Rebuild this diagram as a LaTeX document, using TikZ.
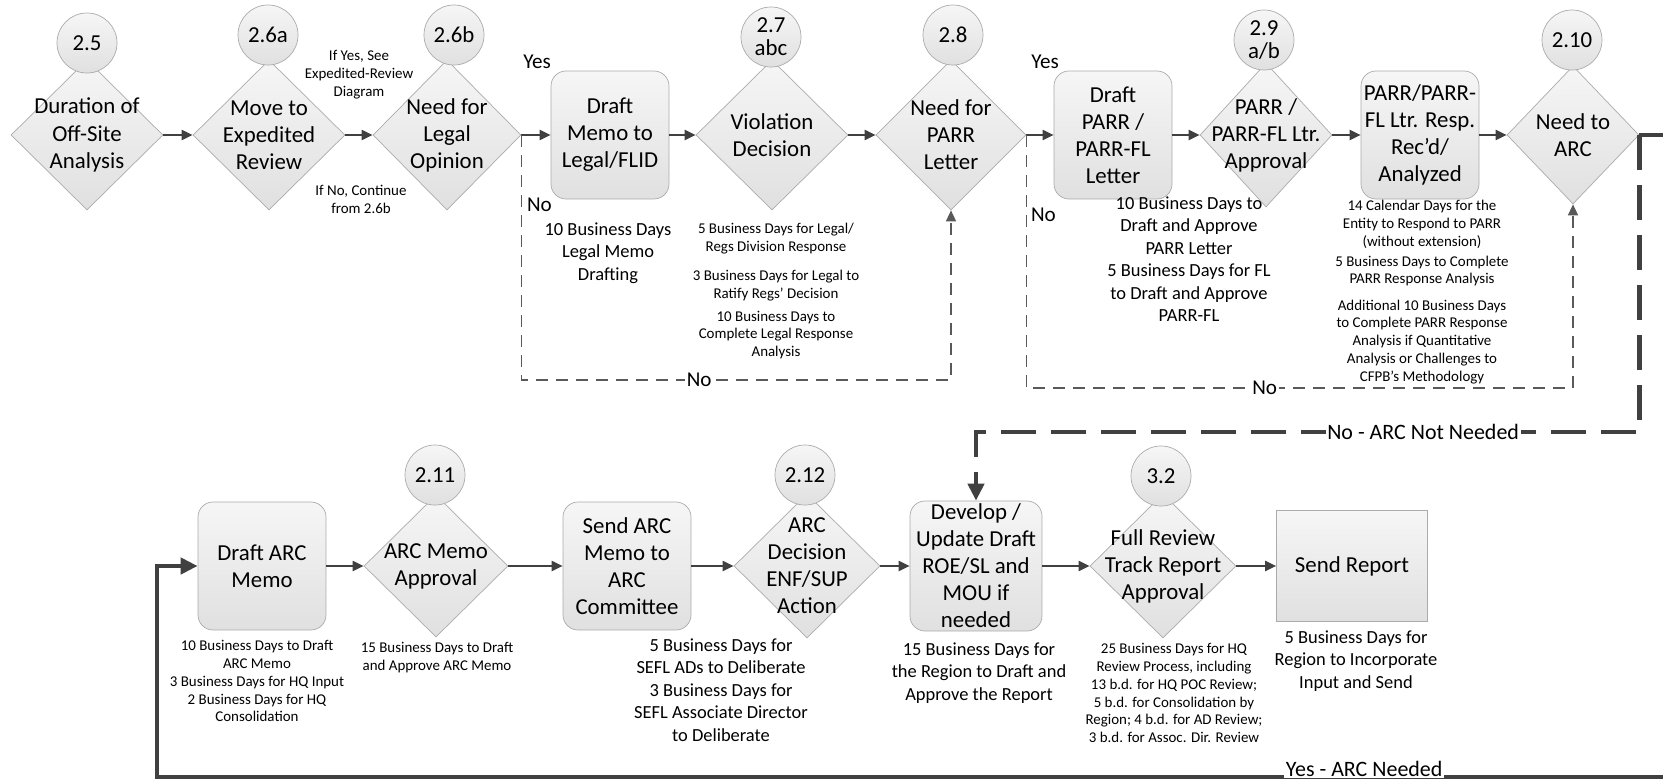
\documentclass[tikz,border=0pt]{standalone}
\usepackage{fontspec}
\setmainfont{Carlito}
\usetikzlibrary{shapes.geometric,arrows.meta}
\definecolor{linegray}{HTML}{404040}
\definecolor{dashgray}{HTML}{595959}
\definecolor{edgegray}{HTML}{ABABAB}
\definecolor{fillgray}{HTML}{E0E0E0}
\definecolor{topgray}{HTML}{F6F6F6}
\begin{document}
\begin{tikzpicture}[x=0.2mm,y=-0.2mm,>={Triangle[length=2.2mm,width=2mm]},
  dtxt/.style={align=center,inner sep=0pt,font=\fontsize{13}{15.4}\selectfont},
  dia/.style={draw=edgegray,diamond,top color=topgray,bottom color=fillgray,inner sep=0pt,minimum width=30.4mm,minimum height=30mm,label={[dtxt]center:#1}},
  box/.style={draw=edgegray,rounded corners=3mm,top color=topgray,bottom color=fillgray,inner sep=1pt,align=center,minimum width=23.6mm,minimum height=25.6mm,font=\fontsize{13}{15.4}\selectfont},
  num/.style={draw=edgegray,circle,top color=topgray,bottom color=fillgray,inner sep=0pt,minimum size=12mm,align=center,font=\fontsize{13}{13}\selectfont},
  note/.style={align=center,inner sep=0pt,font=\fontsize{8.5}{10.2}\selectfont},
  mid/.style={align=center,inner sep=0pt,font=\fontsize{10.5}{12.8}\selectfont},
  lbl/.style={inner sep=1pt,font=\fontsize{12}{14}\selectfont},
  conn/.style={draw=linegray,line width=0.4mm},
  dashln/.style={draw=dashgray,line width=0.3mm,dash pattern=on 2.4mm off 1.6mm},
  heavy/.style={draw=linegray,line width=0.9mm,>={Triangle[length=3.4mm,width=3.2mm]}},
  heavydash/.style={heavy,dash pattern=on 7mm off 3mm}]
\useasboundingbox (0,0) rectangle (1663,782);

\node[dia={Duration of\\Off-Site\\Analysis}] (d1) at (87,135) {};
\node[dia={Move to\\Expedited\\Review}] (d2) at (269,135) {};
\node[dia={Need for\\Legal\\Opinion},minimum width=29.6mm] (d3) at (447,135) {};
\node[box] (b1) at (610,135) {Draft\\Memo to\\Legal/FLID};
\node[dia={Violation\\Decision}] (d4) at (772,135) {};
\node[dia={Need for\\PARR\\Letter},minimum width=30mm] (d5) at (951,135) {};
\node[box] (b2) at (1113,135) {Draft\\PARR /\\PARR-FL\\Letter};
\node[dia={PARR /\\PARR-FL Ltr.\\Approval},minimum width=26.4mm,minimum height=28.8mm] (d6) at (1266,135) {};
\node[box] (b3) at (1420,135) {PARR/PARR-\\FL Ltr. Resp.\\Rec’d/\\Analyzed};
\node[dia={Need to\\ARC},minimum width=26.4mm,minimum height=27.6mm] (d7) at (1573,135) {};

\node[num] (c1) at (87,43) {2.5};
\node[num] (c2) at (268,35) {2.6a};
\node[num] (c3) at (454,35) {2.6b};
\node[num] (c4) at (771,37) {2.7\\abc};
\node[num] (c5) at (953,35) {2.8};
\node[num] (c6) at (1264,40) {2.9\\a/b};
\node[num] (c7) at (1572,40) {2.10};

\node[box,minimum width=25.6mm,minimum height=25.6mm] (b4) at (262,566) {Draft ARC\\Memo};
\node[dia={ARC Memo\\Approval},minimum width=28.8mm,minimum height=28.4mm] (d8) at (436,566) {};
\node[box,minimum width=25.6mm,minimum height=25.6mm] (b5) at (627,566) {Send ARC\\Memo to\\ARC\\Committee};
\node[dia={ARC\\Decision\\ENF/SUP\\Action},minimum width=29.2mm,minimum height=28.8mm] (d9) at (807,566) {};
\node[box,minimum width=26.4mm,minimum height=26mm] (b6) at (976,566) {Develop /\\Update Draft\\ROE/SL and\\MOU if\\needed};
\node[dia={Full Review\\Track Report\\Approval},minimum width=29.2mm,minimum height=28.8mm] (d10) at (1163,566) {};
\node[box,sharp corners,minimum width=30.2mm,minimum height=22.2mm] (b7) at (1352,566) {Send Report};

\node[num] (c8) at (435,475) {2.11};
\node[num] (c9) at (805,475) {2.12};
\node[num] (c10) at (1161,476) {3.2};

\node[lbl] (yes1) at (537,62) {Yes};
\node[lbl] (yes2) at (1045,62) {Yes};
\node[lbl,anchor=west] (no1) at (525,205) {No};
\node[lbl,anchor=west] (no2) at (1029,215) {No};

\node[note] (n1) at (359,75) {If Yes, See\\Expedited-Review\\Diagram};
\node[note] (n2) at (361,199) {If No, Continue\\from 2.6b};
\node[mid] (n3) at (608,253) {10 Business Days\\Legal Memo\\Drafting};
\node[note] (n4) at (776,239) {5 Business Days for Legal/\\Regs Division Response};
\node[note] (n5) at (776,286) {3 Business Days for Legal to\\Ratify Regs’ Decision};
\node[note] (n6) at (776,335) {10 Business Days to\\Complete Legal Response\\Analysis};
\node[mid] (n7) at (1189,259) {10 Business Days to\\Draft and Approve\\PARR Letter\\5 Business Days for FL\\to Draft and Approve\\PARR-FL};
\node[note] (n8) at (1422,224) {14 Calendar Days for the\\Entity to Respond to PARR\\(without extension)};
\node[note] (n9) at (1422,271) {5 Business Days to Complete\\PARR Response Analysis};
\node[note] (n10) at (1422,342) {Additional 10 Business Days\\to Complete PARR Response\\Analysis if Quantitative\\Analysis or Challenges to\\CFPB’s Methodology};
\node[note] (n11) at (257,681) {10 Business Days to Draft\\ARC Memo\\3 Business Days for HQ Input\\2 Business Days for HQ\\Consolidation};
\node[note] (n12) at (437,658) {15 Business Days to Draft\\and Approve ARC Memo};
\node[mid] (n13) at (721,690) {5 Business Days for\\SEFL ADs to Deliberate\\3 Business Days for\\SEFL Associate Director\\to Deliberate};
\node[mid] (n14) at (979,673) {15 Business Days for\\the Region to Draft and\\Approve the Report};
\node[note] (n15) at (1174,693) {25 Business Days for HQ\\Review Process, including\\13 b.d. for HQ POC Review;\\5 b.d. for Consolidation by\\Region; 4 b.d. for AD Review;\\3 b.d. for Assoc. Dir. Review};
\node[mid] (n16) at (1356,661) {5 Business Days for\\Region to Incorporate\\Input and Send};

\draw[conn,->] (d1) -- (d2);
\draw[conn,->] (d2) -- (d3);
\draw[conn,->] (d3) -- (b1);
\draw[conn,->] (b1) -- (d4);
\draw[conn,->] (d4) -- (d5);
\draw[conn,->] (d5) -- (b2);
\draw[conn,->] (b2) -- (d6);
\draw[conn,->] (d6) -- (b3);
\draw[conn,->] (b3) -- (d7);
\draw[conn,->] (b4) -- (d8);
\draw[conn,->] (d8) -- (b5);
\draw[conn,->] (b5) -- (d9);
\draw[conn,->] (d9) -- (b6);
\draw[conn,->] (b6) -- (d10);
\draw[conn,->] (d10) -- (b7);

\draw[dashln,->] (d3.east) -- ++(0,245) -| node[lbl,pos=0.207,fill=white] (no3) {No} (d5.south);
\draw[dashln,->] (d5.east) -- ++(0,253) -| node[lbl,pos=0.218,fill=white] (no4) {No} (d7.south);
\draw[heavydash,->] (d7.east) -- ++(0,297) -| node[lbl,pos=0.163,fill=white,font=\fontsize{12.5}{15}\selectfont] (noarc) {No - ARC Not Needed} (b6.north);

\coordinate (yr) at (1666,777);
\coordinate (yl) at (157,777);
\draw[heavy,->] (d7.east) -| (yr) -- node[lbl,pos=0.2,fill=white,anchor=south,yshift=-2pt,font=\fontsize{12.5}{15}\selectfont] (yesarc) {Yes - ARC Needed} (yl) |- (b4.west);
\end{tikzpicture}
\end{document}
